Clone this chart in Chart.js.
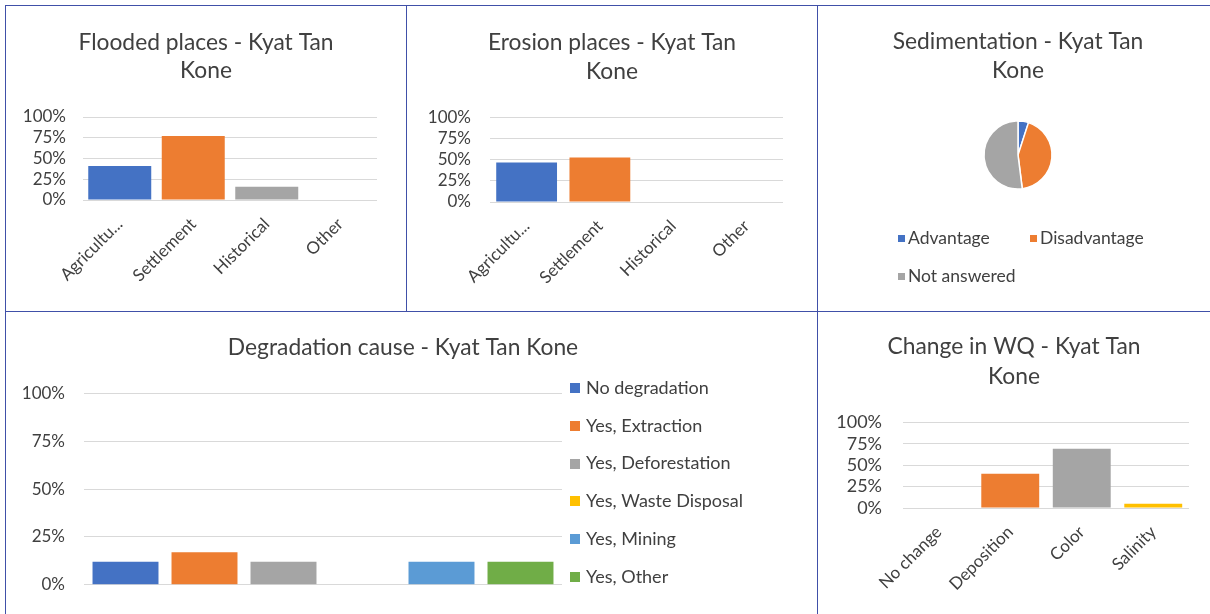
<!DOCTYPE html>
<html>
<head>
<meta charset="utf-8">
<script src="https://cdn.jsdelivr.net/npm/chart.js@4.4.1/dist/chart.umd.min.js"></script>
<style>
  html, body { margin: 0; padding: 0; background: #ffffff; }
  #page { position: relative; width: 1210px; height: 614px; overflow: hidden; background: #ffffff; }
  canvas { position: absolute; }
  .ln { position: absolute; background: #4050A8; z-index: 5; }
</style>
</head>
<body>
<div id="page">
  <canvas id="c1" width="400" height="305" style="left:6px;top:6px;width:400px;height:305px"></canvas>
  <canvas id="c2" width="410" height="305" style="left:407px;top:6px;width:410px;height:305px"></canvas>
  <canvas id="c3" width="392" height="305" style="left:818px;top:6px;width:392px;height:305px"></canvas>
  <canvas id="c4" width="794" height="302" style="left:6px;top:312px;width:794px;height:302px"></canvas>
  <canvas id="c5" width="392" height="302" style="left:818px;top:312px;width:392px;height:302px"></canvas>
  <div class="ln" style="left:5px;top:5px;width:1205px;height:1px"></div>
  <div class="ln" style="left:5px;top:5px;width:1px;height:609px"></div>
  <div class="ln" style="left:5px;top:311px;width:1205px;height:1px"></div>
  <div class="ln" style="left:406px;top:5px;width:1px;height:306px"></div>
  <div class="ln" style="left:817px;top:5px;width:1px;height:609px"></div>
</div>
<script>
// ---------------- data ----------------
const floodCategories = ['Agricultu...', 'Settlement', 'Historical', 'Other'];
const floodValues = [41, 77, 16, 0];

const erosionCategories = ['Agricultu...', 'Settlement', 'Historical', 'Other'];
const erosionValues = [47, 53, 0, 0];

const sedimentLabels = ['Advantage', 'Disadvantage', 'Not answered'];
const sedimentValues = [5, 43, 52];

const degradationCategory = [''];
const degradationSeries = ['No degradation', 'Yes, Extraction', 'Yes, Deforestation', 'Yes, Waste Disposal', 'Yes, Mining', 'Yes, Other'];
const degradationValues = [12, 17, 12, 0, 12, 12];

const wqCategories = ['No change', 'Deposition', 'Color', 'Salinity'];
const wqValues = [0, 40, 69, 5];

const percentTicks = [0, 25, 50, 75, 100];

const titles = {
  flood: ['Flooded places - Kyat Tan', 'Kone'],
  erosion: ['Erosion places - Kyat Tan', 'Kone'],
  sediment: ['Sedimentation - Kyat Tan', 'Kone'],
  degradation: 'Degradation cause - Kyat Tan Kone',
  wq: ['Change in WQ - Kyat Tan', 'Kone']
};

const palette = ['#4472C4', '#ED7D31', '#A5A5A5', '#FFC000', '#5B9BD5', '#70AD47'];
// ---------------- style ----------------
const FONT = 'Lato';
const TXT = '#404040';
const GRID = '#D9D9D9';
const TITLE_SIZE = 22.8;

const manualLegend = {
  id: 'manualLegend',
  afterDraw(chart, args, o) {
    if (!o || !o.enabled) return;
    const items = chart.options.plugins.legend.labels.generateLabels(chart);
    const ctx = chart.ctx;
    ctx.save();
    ctx.font = o.fontSize + 'px "' + FONT + '"';
    ctx.textBaseline = 'middle';
    ctx.textAlign = 'left';
    items.forEach((it, i) => {
      const col = i % o.perRow, row = Math.floor(i / o.perRow);
      const x = o.x + o.colX[col];
      const y = o.y + row * o.dy;
      ctx.fillStyle = it.fillStyle;
      ctx.fillRect(x, Math.round(y - o.box / 2), o.box, o.box);
      ctx.fillStyle = TXT;
      ctx.fillText(it.text, x + o.textGap, y);
    });
    ctx.restore();
  }
};

function pctAxis(leftW, pad, fontSize) {
  return {
    type: 'linear', position: 'left', min: 0, max: 100,
    afterBuildTicks: (s) => { s.ticks = percentTicks.map(v => ({ value: v })); },
    ticks: { callback: v => v + '%', color: TXT, padding: pad, autoSkip: false, font: { family: FONT, size: fontSize } },
    grid: { color: GRID, lineWidth: 1, drawTicks: false },
    border: { display: false },
    afterFit: (s) => { s.width = leftW; }
  };
}
function dummyRight(w) {
  return {
    type: 'linear', position: 'right', display: true,
    ticks: { display: false }, grid: { display: false, drawTicks: false }, border: { display: false },
    afterFit: (s) => { s.width = w; }
  };
}
function catAxis(h, fontSize, pad, show) {
  return {
    type: 'category', position: 'bottom',
    grid: { display: false, drawTicks: false }, border: { display: false },
    ticks: { display: show, color: TXT, autoSkip: false, minRotation: 45, maxRotation: 45, padding: pad, font: { family: FONT, size: fontSize } },
    afterFit: (s) => { s.height = h; }
  };
}
function titleOpt(text, size, lh, pt, pb) {
  return { display: true, text: text, color: TXT, font: { family: FONT, size: size, weight: 'normal', lineHeight: lh }, padding: { top: pt, bottom: pb } };
}
const base = { responsive: false, animation: false, devicePixelRatio: 1, events: [] };

// ---------- Chart 1: Flooded places ----------
new Chart(document.getElementById('c1'), {
  type: 'bar',
  data: { labels: floodCategories, datasets: [{ data: floodValues, backgroundColor: palette.slice(0, 4), categoryPercentage: 1, barPercentage: 0.857 }] },
  options: Object.assign({}, base, {
    layout: { padding: 0 },
    plugins: { legend: { display: false }, tooltip: { enabled: false }, title: titleOpt(titles.flood, TITLE_SIZE, 1.25, 22, 32) },
    scales: { x: catAxis(111, 17, 14, true), y: pctAxis(77, 17, 17), y2: dummyRight(29) }
  })
});

// ---------- Chart 2: Erosion places ----------
new Chart(document.getElementById('c2'), {
  type: 'bar',
  data: { labels: erosionCategories, datasets: [{ data: erosionValues, backgroundColor: palette.slice(0, 4), categoryPercentage: 1, barPercentage: 0.83 }] },
  options: Object.assign({}, base, {
    layout: { padding: 0 },
    plugins: { legend: { display: false }, tooltip: { enabled: false }, title: titleOpt(titles.erosion, TITLE_SIZE, 1.27, 22, 32) },
    scales: { x: catAxis(109, 17, 14, true), y: pctAxis(83, 19, 17), y2: dummyRight(34) }
  })
});

// ---------- Chart 3: Sedimentation pie ----------
new Chart(document.getElementById('c3'), {
  type: 'pie',
  data: { labels: sedimentLabels, datasets: [{ data: sedimentValues, backgroundColor: palette.slice(0, 3), borderColor: '#ffffff', borderWidth: 1.5, radius: 34 }] },
  options: Object.assign({}, base, {
    layout: { padding: { left: 8, right: 0, top: 0, bottom: 96 } },
    plugins: {
      legend: { display: false }, tooltip: { enabled: false },
      title: titleOpt(titles.sediment, TITLE_SIZE, 1.27, 21, 10),
      manualLegend: { enabled: true, x: 80, y: 232, dy: 38, perRow: 2, colX: [0, 132], box: 7, textGap: 10, fontSize: 17.5 }
    }
  }),
  plugins: [manualLegend]
});

// ---------- Chart 4: Degradation cause ----------
new Chart(document.getElementById('c4'), {
  type: 'bar',
  data: {
    labels: degradationCategory,
    datasets: degradationSeries.map((name, i) => ({ label: name, data: [degradationValues[i]], backgroundColor: palette[i], categoryPercentage: 0.9916, barPercentage: 0.835 }))
  },
  options: Object.assign({}, base, {
    layout: { padding: 0 },
    plugins: {
      legend: { display: false }, tooltip: { enabled: false },
      title: titleOpt(titles.degradation, TITLE_SIZE, 1.25, 21, 32),
      manualLegend: { enabled: true, x: 564, y: 76, dy: 37.8, perRow: 1, colX: [0], box: 10, textGap: 16, fontSize: 18 }
    },
    scales: { x: catAxis(29, 16, 8, false), y: pctAxis(78, 19, 17), y2: dummyRight(238) }
  }),
  plugins: [manualLegend]
});

// ---------- Chart 5: Change in WQ ----------
new Chart(document.getElementById('c5'), {
  type: 'bar',
  data: { labels: wqCategories, datasets: [{ data: wqValues, backgroundColor: palette.slice(0, 4), categoryPercentage: 1, barPercentage: 0.81 }] },
  options: Object.assign({}, base, {
    layout: { padding: 0 },
    plugins: { legend: { display: false }, tooltip: { enabled: false }, title: titleOpt(titles.wq, TITLE_SIZE, 1.3, 20, 31) },
    scales: { x: catAxis(106, 17, 14, true), y: pctAxis(85, 21, 18), y2: dummyRight(21) }
  })
});
</script>
</body>
</html>
